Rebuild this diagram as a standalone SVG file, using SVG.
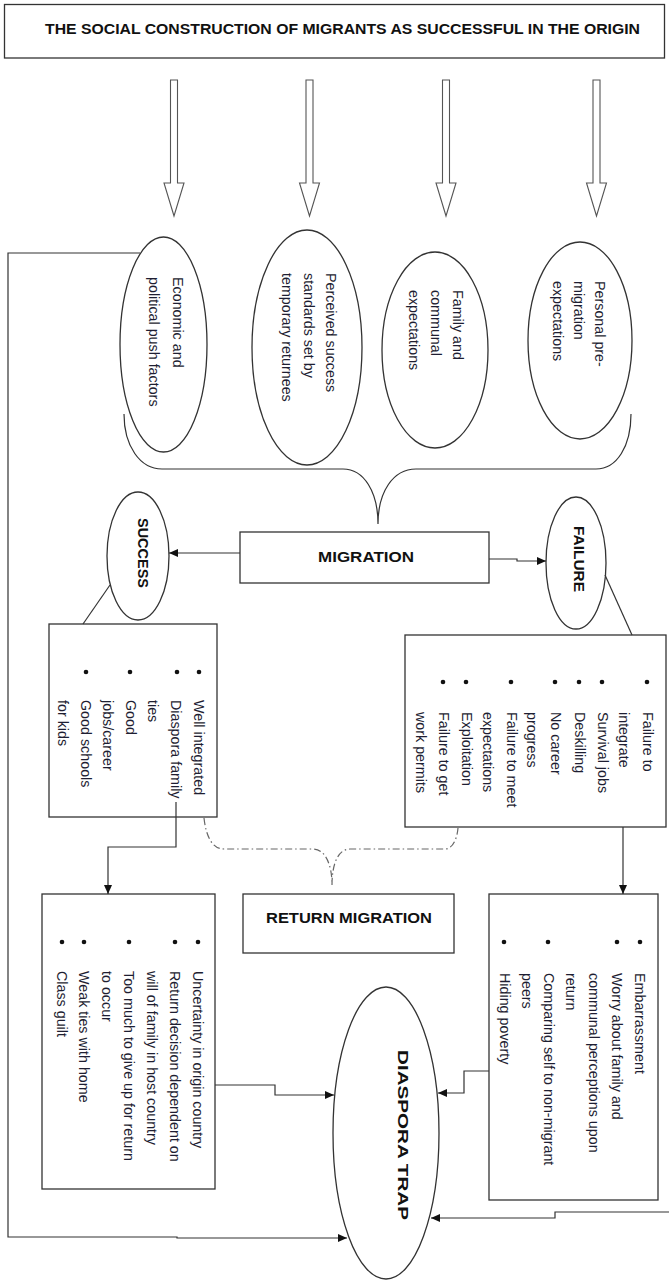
<svg xmlns="http://www.w3.org/2000/svg" width="669" height="1280" viewBox="0 0 669 1280">
<style>
.shape{fill:#fff;stroke:#333;stroke-width:1.3}
.ln{fill:none;stroke:#333;stroke-width:1.2}
.hol{fill:#fff;stroke:#555;stroke-width:1.1}
.dd{fill:none;stroke:#666;stroke-width:1.2;stroke-dasharray:7 3 1.5 3}
.t{font-family:"Liberation Sans",Arial,sans-serif;font-size:14.3px;fill:#1e1e32}
.b{font-weight:bold;fill:#111}
.dot{fill:#111}
</style>
<defs>
<marker id="ah" markerUnits="userSpaceOnUse" markerWidth="9" markerHeight="8" refX="9" refY="4" orient="auto"><path d="M0,0 L9,4 L0,8 z" fill="#111"/></marker>
</defs>
<rect width="669" height="1280" fill="#fff"/>

<g id="title">
<rect class="shape" x="4.5" y="4.5" width="660" height="53.5"/>
<text class="t b" x="45" y="34" font-size="13.5" textLength="595" lengthAdjust="spacingAndGlyphs">THE SOCIAL CONSTRUCTION OF MIGRANTS AS SUCCESSFUL IN THE ORIGIN</text>
</g>

<g id="push-factors">
<ellipse class="shape" cx="163.5" cy="344.5" rx="43.5" ry="107.5"/>
<text class="t" transform="translate(0,277) rotate(90)"><tspan x="0" y="-172.5">Economic and</tspan><tspan x="0" y="-148.5">political push factors</tspan></text>
</g>
<g id="returnees">
<ellipse class="shape" cx="307" cy="347.5" rx="55" ry="117.5"/>
<text class="t" transform="translate(0,273) rotate(90)"><tspan x="0" y="-325.5">Perceived success</tspan><tspan x="0" y="-303.5">standards set by</tspan><tspan x="0" y="-281.5">temporary returnees</tspan></text>
</g>
<g id="family">
<ellipse class="shape" cx="435" cy="350" rx="53" ry="98"/>
<text class="t" transform="translate(0,290) rotate(90)"><tspan x="0" y="-452.5">Family and</tspan><tspan x="0" y="-430.5">communal</tspan><tspan x="0" y="-408.5">expectations</tspan></text>
</g>
<g id="personal">
<ellipse class="shape" cx="580" cy="340.5" rx="52" ry="98.5"/>
<text class="t" transform="translate(0,281) rotate(90)"><tspan x="0" y="-594.5">Personal pre-</tspan><tspan x="0" y="-573.5">migration</tspan><tspan x="0" y="-552.5">expectations</tspan></text>
</g>

<g id="migration">
<rect class="shape" x="240" y="532" width="249" height="51"/>
<text class="t b" x="318" y="562" font-size="15.5" textLength="96" lengthAdjust="spacingAndGlyphs">MIGRATION</text>
</g>
<g id="success">
<ellipse class="shape" cx="138" cy="556" rx="31" ry="64"/>
<text class="t b" font-size="14.5" transform="translate(0,518) rotate(90)" x="0" y="-137.5" textLength="70" lengthAdjust="spacingAndGlyphs">SUCCESS</text>
</g>
<g id="failure">
<ellipse class="shape" cx="576" cy="563" rx="30" ry="66"/>
<text class="t b" font-size="14.5" transform="translate(0,526) rotate(90)" x="0" y="-574" textLength="66" lengthAdjust="spacingAndGlyphs">FAILURE</text>
</g>

<g id="success-list">
<rect class="shape" x="49" y="624" width="168" height="193"/>
<circle class="dot" cx="199" cy="672" r="2.3"/><circle class="dot" cx="177" cy="672" r="2.3"/><circle class="dot" cx="130" cy="672" r="2.3"/><circle class="dot" cx="86" cy="672" r="2.3"/>
<text class="t" transform="translate(0,700) rotate(90)"><tspan x="0" y="-193.5">Well integrated</tspan><tspan x="0" y="-170.5">Diaspora family</tspan><tspan x="0" y="-147.5">ties</tspan><tspan x="0" y="-125.5">Good</tspan><tspan x="0" y="-102.5">jobs/career</tspan><tspan x="0" y="-80.5">Good schools</tspan><tspan x="0" y="-57.5">for kids</tspan></text>
</g>

<g id="failure-list">
<rect class="shape" x="405" y="635" width="261" height="192"/>
<circle class="dot" cx="647" cy="682" r="2.3"/><circle class="dot" cx="602" cy="682" r="2.3"/><circle class="dot" cx="579" cy="682" r="2.3"/><circle class="dot" cx="555" cy="682" r="2.3"/><circle class="dot" cx="511" cy="682" r="2.3"/><circle class="dot" cx="466" cy="682" r="2.3"/><circle class="dot" cx="443" cy="682" r="2.3"/>
<text class="t" transform="translate(0,712) rotate(90)"><tspan x="0" y="-642.5">Failure to</tspan><tspan x="0" y="-618.5">integrate</tspan><tspan x="0" y="-597.5">Survival jobs</tspan><tspan x="0" y="-574.5">Deskilling</tspan><tspan x="0" y="-550.5">No career</tspan><tspan x="0" y="-526.5">progress</tspan><tspan x="0" y="-506.5">Failure to meet</tspan><tspan x="0" y="-482.5">expectations</tspan><tspan x="0" y="-461.5">Exploitation</tspan><tspan x="0" y="-438.5">Failure to get</tspan><tspan x="0" y="-415.5">work permits</tspan></text>
</g>

<g id="return-migration">
<rect class="shape" x="243" y="894" width="211" height="59"/>
<text class="t b" x="266" y="923" font-size="15.5" textLength="166" lengthAdjust="spacingAndGlyphs">RETURN MIGRATION</text>
</g>

<g id="success-barriers">
<rect class="shape" x="42" y="894" width="173" height="295"/>
<circle class="dot" cx="198" cy="942" r="2.3"/><circle class="dot" cx="175" cy="942" r="2.3"/><circle class="dot" cx="129" cy="942" r="2.3"/><circle class="dot" cx="84" cy="942" r="2.3"/><circle class="dot" cx="62" cy="942" r="2.3"/>
<text class="t" transform="translate(0,971) rotate(90)"><tspan x="0" y="-192.5">Uncertainty in origin country</tspan><tspan x="0" y="-169.5">Return decision dependent on</tspan><tspan x="0" y="-146.5">will of family in host country</tspan><tspan x="0" y="-123.5">Too much to give up for return</tspan><tspan x="0" y="-101.5">to occur</tspan><tspan x="0" y="-78.5">Weak ties with home</tspan><tspan x="0" y="-56.5">Class guilt</tspan></text>
</g>

<g id="failure-barriers">
<rect class="shape" x="489" y="894" width="169" height="306"/>
<circle class="dot" cx="640" cy="942" r="2.3"/><circle class="dot" cx="617" cy="942" r="2.3"/><circle class="dot" cx="548" cy="942" r="2.3"/><circle class="dot" cx="504" cy="942" r="2.3"/>
<text class="t" transform="translate(0,973) rotate(90)"><tspan x="0" y="-634.5">Embarrassment</tspan><tspan x="0" y="-611.5">Worry about family and</tspan><tspan x="0" y="-588.5">communal perceptions upon</tspan><tspan x="0" y="-565.5">return</tspan><tspan x="0" y="-543.5">Comparing self to non-migrant</tspan><tspan x="0" y="-521.5">peers</tspan><tspan x="0" y="-499.5">Hiding poverty</tspan></text>
</g>

<g id="diaspora-trap">
<ellipse class="shape" cx="386" cy="1133" rx="53" ry="146"/>
<text class="t b" font-size="21" transform="translate(0,1050) rotate(90)" x="0" y="-398" textLength="170" lengthAdjust="spacingAndGlyphs">DIASPORA TRAP</text>
</g>

<g id="connectors">
<polygon class="hol" points="170.5,80 177.5,80 177.5,183 184,183 174,216 164,183 170.5,183"/>
<polygon class="hol" points="306,80 313,80 313,183 319.5,183 309.5,216 299.5,183 306,183"/>
<polygon class="hol" points="442.5,80 449.5,80 449.5,183 456,183 446,216 436,183 442.5,183"/>
<polygon class="hol" points="593,80 600,80 600,183 606.5,183 596.5,216 586.5,183 593,183"/>
<path class="ln" d="M124,414 C124,446 140,469 162,469 L343,469 C364,469 378,492 378,524 C378,492 393,469 416,469 L596,469 C617,469 631,446 631,414"/>
<path class="dd" d="M204,818 C206,836 212,849 224,849 L313,849 C325,849 332,864 332,885 C332,864 338,849 350,849 L445,849 C452,849 457,840 458,828"/>
<path class="ln" d="M140,253 H8 V1237 H177 V1238 H347" marker-end="url(#ah)"/>
<path class="ln" d="M240,553 H169" marker-end="url(#ah)"/>
<path class="ln" d="M489,559 H517 V561 H546" marker-end="url(#ah)"/>
<path class="ln" d="M110,585 L83,624"/>
<path class="ln" d="M605,575 L632,635"/>
<path class="ln" d="M176,802 V847 H108 V894" marker-end="url(#ah)"/>
<path class="ln" d="M623,827 V894" marker-end="url(#ah)"/>
<path class="ln" d="M215,1085 H275 V1095 H334" marker-end="url(#ah)"/>
<path class="ln" d="M489,1071 H464 V1093 H438" marker-end="url(#ah)"/>
<path class="ln" d="M669,1212 H555 V1218 H431" marker-end="url(#ah)"/>
</g>
</svg>
